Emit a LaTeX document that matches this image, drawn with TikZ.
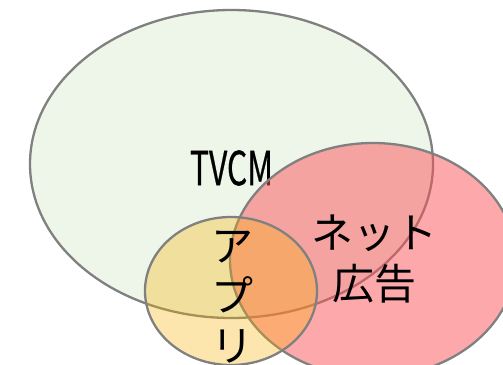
\documentclass[tikz,border=0pt]{standalone}
\usepackage{fontspec}
\newfontfamily\cjk{Noto Sans CJK JP}
\newfontfamily\cjkb[FakeBold=0.6]{Noto Sans CJK JP}
\usetikzlibrary{shapes.geometric}
\definecolor{gfill}{RGB}{238,245,233}
\definecolor{rfill}{RGB}{251,83,89}
\definecolor{yfill}{RGB}{250,178,0}
\definecolor{rim}{RGB}{128,128,128}
\tikzset{
  setbox/.style={ellipse, draw=rim, line width=2.3pt, inner sep=0pt, outer sep=0pt},
  lbl/.style={font=\cjk\fontsize{42}{51}\selectfont, align=center, inner sep=0pt, text=black}
}
\begin{document}
\begin{tikzpicture}[x=1pt,y=-1pt]
\useasboundingbox (0,0) rectangle (503,364);
\clip (0,0) rectangle (503,364);
\node[setbox, fill=gfill, minimum width=403pt, minimum height=308pt] (tv) at (231.5,164) {};
\node[inner sep=0pt] (tvt) at (231.5,168) {\resizebox{83pt}{35pt}{\cjkb TVCM}};
\node[setbox, fill=rfill, fill opacity=0.5, minimum width=286pt, minimum height=234pt] (net) at (373,260) {};
\node[lbl] (nett) at (374,259) {ネット\\広告};
\node[setbox, fill=yfill, fill opacity=0.32, minimum width=172pt, minimum height=148pt] (app) at (231,291) {};
\node[lbl, font=\cjk\fontsize{42}{50}\selectfont] (appt) at (232,297) {ア\\プ\\リ};
\end{tikzpicture}
\end{document}
